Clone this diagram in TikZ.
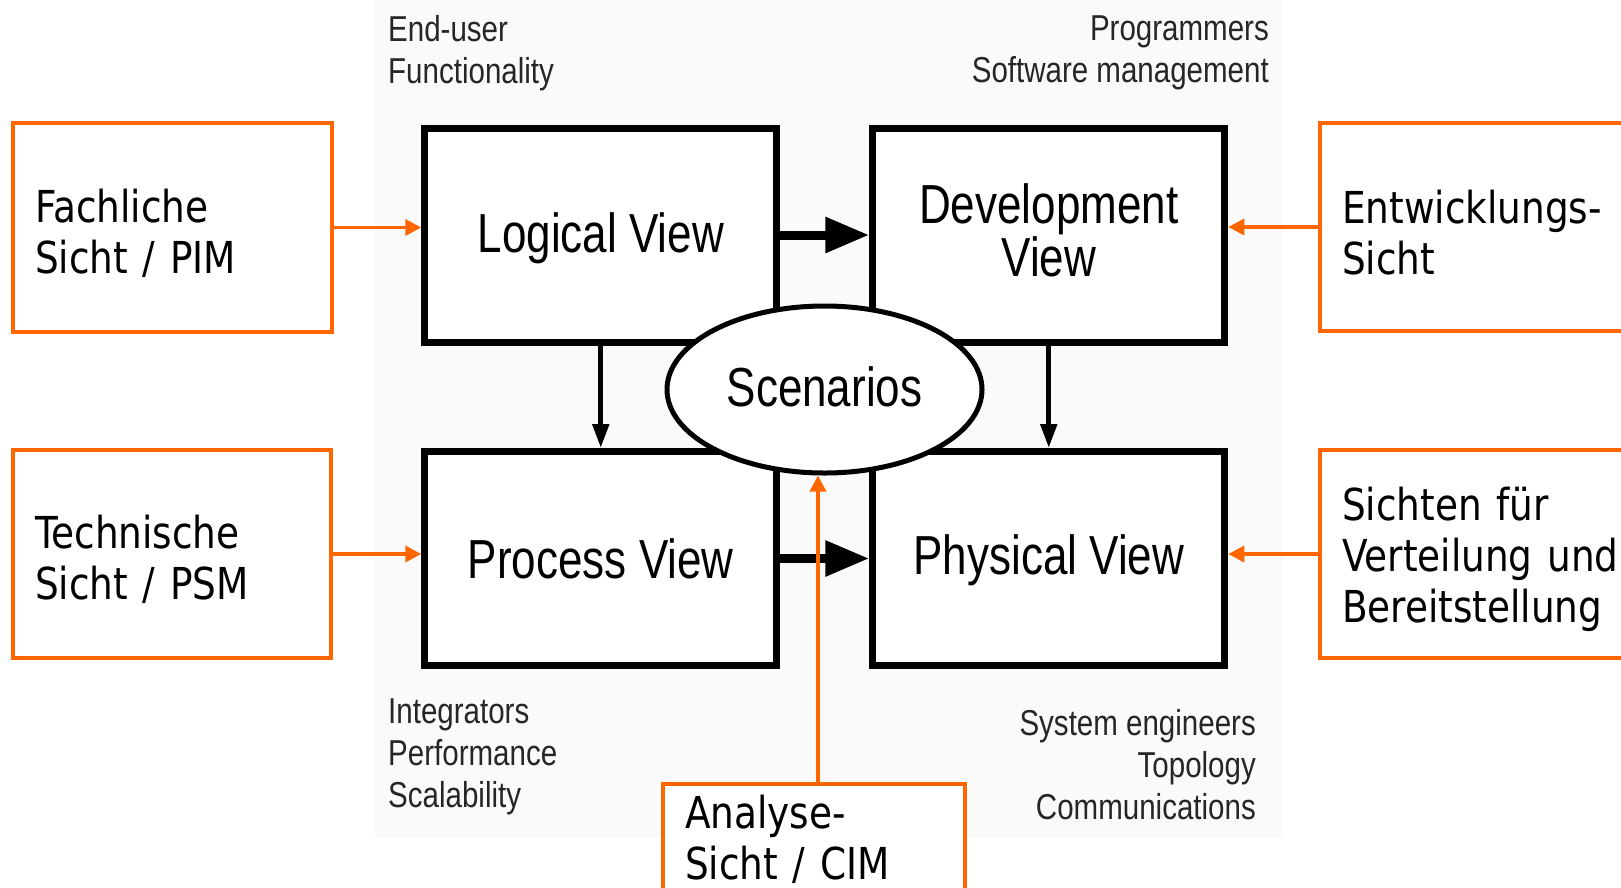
\documentclass[tikz,border=0pt]{standalone}
\usepackage{fontspec}
\setmainfont{Liberation Sans}
\newfontfamily\viewfont[FakeStretch=0.8]{Liberation Sans}
\newfontfamily\notefont[FakeStretch=0.82]{Liberation Sans}
\newfontfamily\boxfont[FakeStretch=0.85]{DejaVu Sans}
\usetikzlibrary{arrows.meta,shapes.geometric}
\definecolor{org}{RGB}{255,102,0}
\definecolor{bgpanel}{RGB}{250,250,250}
\begin{document}
\begin{tikzpicture}[x=1pt,y=-1pt,
  viewbox/.style={draw=black,line width=7pt,fill=white,minimum width=352pt,minimum height=214pt,inner sep=0pt,align=center,font=\viewfont\fontsize{55}{53}\selectfont},
  obox/.style={draw=org,line width=3.5pt,fill=white,inner xsep=22pt,inner ysep=0pt,align=left,font=\boxfont\fontsize{44}{51}\selectfont},
  oboxlow/.style={obox,execute at begin node={\rule{0pt}{45pt}}},
  oarrow/.style={draw=org,line width=3.5pt,-{Triangle[length=16pt,width=16pt]}},
  bigarrow/.style={line width=9pt,-{Triangle[length=44pt,width=34pt]}},
  downarrow/.style={line width=5pt,-{Triangle[length=24pt,width=16pt]}},
  note/.style={inner sep=0pt,text=black!85,font=\notefont\fontsize{36}{42}\selectfont}
]
\useasboundingbox (0,0) rectangle (1621,887);
\clip (0,0) rectangle (1621,887);
\fill[white] (0,0) rectangle (1621,887);
\fill[bgpanel] (375,0) rectangle (1283,838);

% views
\node[viewbox] (log) at (600.75,235) {\rule{0pt}{46pt}Logical View};
\node[viewbox] (dev) at (1048.75,235) {Development\\View\rule[-10pt]{0pt}{0pt}};
\node[viewbox] (proc) at (600.75,558.5) {Process View};
\node[viewbox] (phys) at (1048.75,558.5) {\rule{0pt}{44pt}Physical View};

% arrows between views
\draw[bigarrow] (log.east) -- (dev.west);
\draw[bigarrow] (proc.east) -- (phys.west);
\draw[downarrow] (log.south) -- (proc.north);
\draw[downarrow] (dev.south) -- (phys.north);

% scenarios
\node[draw=black,line width=5pt,fill=white,ellipse,minimum width=315pt,minimum height=167pt,inner sep=0pt,font=\viewfont\fontsize{55}{53}\selectfont] (scen) at (824.5,389.5) {Scenarios\rule[-6pt]{0pt}{0pt}};

% notes
\node[note,anchor=west,align=left] (n1) at (388,53) {End-user\\Functionality};
\node[note,anchor=east,align=right] (n2) at (1269,53) {Programmers\\Software management};
\node[note,anchor=west,align=left] (n3) at (388,757) {Integrators\\Performance\\Scalability};
\node[note,anchor=east,align=right] (n4) at (1256,765) {System engineers\\Topology\\Communications};

% orange boxes
\node[oboxlow,text width=275pt,minimum height=209pt] (fach) at (172.5,227.5) {Fachliche\\Sicht / PIM};
\node[oboxlow,text width=274pt,minimum height=208pt] (tech) at (172,554) {Technische\\Sicht / PSM};
\node[oboxlow,text width=286pt,minimum height=208pt] (ent) at (1485,227) {Entwicklungs-\\Sicht};
\node[oboxlow,text width=286pt,minimum height=208pt] (sic) at (1485,554) {Sichten für\\Verteilung und\\Bereitstellung};
\node[obox,text width=258pt,minimum height=110pt] (ana) at (814,839) {Analyse-\\Sicht / CIM};

% orange arrows
\draw[oarrow] (fach.east) -- (fach.east -| log.west);
\draw[oarrow] (tech.east) -- (tech.east -| proc.west);
\draw[oarrow] (ent.west) -- (ent.west -| dev.east);
\draw[oarrow] (sic.west) -- (sic.west -| phys.east);
\coordinate (anatop) at ([xshift=4pt]ana.north);
\coordinate (anatip) at (anatop |- scen.south);
\draw[oarrow] (anatop) -- (anatip);
\end{tikzpicture}
\end{document}
